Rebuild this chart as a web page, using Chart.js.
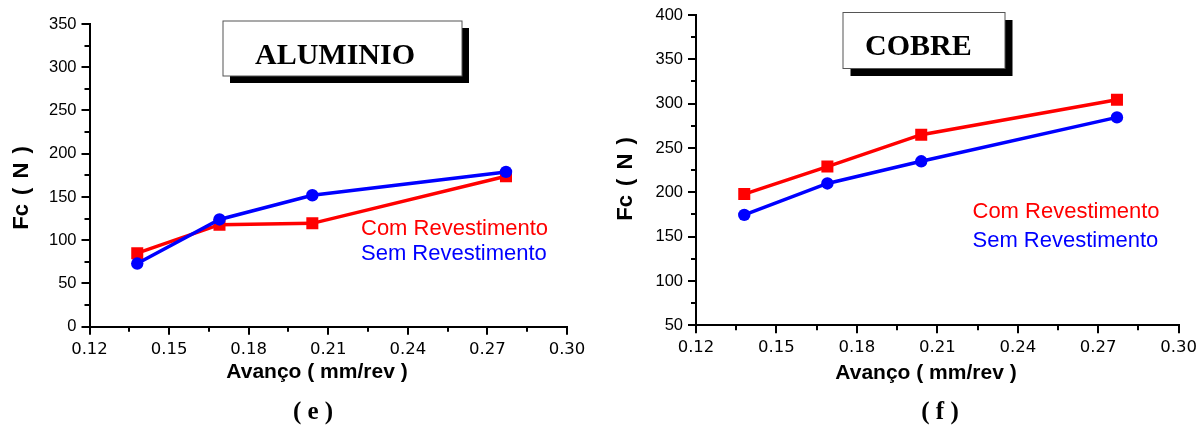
<!DOCTYPE html>
<html>
<head>
<meta charset="utf-8">
<script src="https://cdn.jsdelivr.net/npm/chart.js@4.4.1/dist/chart.umd.min.js"></script>
<style>
  html, body { margin: 0; padding: 0; background: #ffffff; }
  #wrap { position: relative; width: 1202px; height: 426px; overflow: hidden; background: #fff; }
  canvas { position: absolute; top: 0; }
  #c1 { left: 0; }
  #c2 { left: 600px; }
  svg { position: absolute; left: 0; top: 0; pointer-events: none; }
  .sans { font-family: "Liberation Sans", Arial, sans-serif; }
  .serif { font-family: "Liberation Serif", "Times New Roman", serif; }
</style>
</head>
<body>
<div id="wrap">
  <canvas id="c1" width="600" height="426"></canvas>
  <canvas id="c2" width="602" height="426"></canvas>
  <svg width="1202" height="426" viewBox="0 0 1202 426">
    <!-- ALUMINIO title box -->
    <rect x="230" y="28" width="239" height="55" fill="#000"/>
    <rect x="223" y="21" width="239" height="55" fill="#fff" stroke="#555" stroke-width="1"/>
    <text x="255" y="64" class="serif" font-weight="bold" font-size="30" fill="#000">ALUMINIO</text>
    <!-- COBRE title box -->
    <rect x="850.5" y="20" width="162" height="56" fill="#000"/>
    <rect x="843" y="12.5" width="162" height="56" fill="#fff" stroke="#555" stroke-width="1"/>
    <text x="865" y="55" class="serif" font-weight="bold" font-size="30" fill="#000">COBRE</text>

    <!-- legends -->
    <text x="361" y="235" class="sans" font-size="22" fill="#ff0000">Com Revestimento</text>
    <text x="361" y="260" class="sans" font-size="22" fill="#0000ff">Sem Revestimento</text>
    <text x="972.5" y="218" class="sans" font-size="22" fill="#ff0000">Com Revestimento</text>
    <text x="972.5" y="246.5" class="sans" font-size="22" fill="#0000ff">Sem Revestimento</text>

    <!-- axis titles -->
    <text transform="translate(28,188) rotate(-90)" text-anchor="middle" class="sans" font-weight="bold" font-size="22" fill="#000" style="white-space:pre" word-spacing="3">Fc ( N )</text>
    <text transform="translate(632,179) rotate(-90)" text-anchor="middle" class="sans" font-weight="bold" font-size="22" fill="#000" style="white-space:pre" word-spacing="3">Fc ( N )</text>
    <text x="317" y="378" text-anchor="middle" class="sans" font-weight="bold" font-size="21" fill="#000">Avanço ( mm/rev )</text>
    <text x="926" y="379" text-anchor="middle" class="sans" font-weight="bold" font-size="21" fill="#000">Avanço ( mm/rev )</text>

    <!-- captions -->
    <text x="313" y="419" text-anchor="middle" class="serif" font-weight="bold" font-size="25" fill="#000" style="white-space:pre">( e )</text>
    <text x="940" y="419" text-anchor="middle" class="serif" font-weight="bold" font-size="25" fill="#000" style="white-space:pre">( f )</text>
  </svg>
</div>
<script>
// ---- data ----
const feed = [0.138, 0.169, 0.204, 0.277];          // Avanço (mm/rev)
const aluComRevest = [85, 118, 119.5, 174];         // ALUMINIO, Com Revestimento
const aluSemRevest = [73, 124, 152, 179];           // ALUMINIO, Sem Revestimento
const cuComRevest = [198, 229, 265, 304.5];         // COBRE, Com Revestimento
const cuSemRevest = [174.5, 210, 235, 284.5];       // COBRE, Sem Revestimento

const xTicks = [0.12, 0.15, 0.18, 0.21, 0.24, 0.27, 0.30];
const xMinorTicks = [0.135, 0.165, 0.195, 0.225, 0.255, 0.285];
const aluYTicks = [0, 50, 100, 150, 200, 250, 300, 350];
const aluYMinor = [25, 75, 125, 175, 225, 275, 325];
const cuYTicks = [50, 100, 150, 200, 250, 300, 350, 400];
const cuYMinor = [75, 125, 175, 225, 275, 325, 375];

const seriesNames = ['Com Revestimento', 'Sem Revestimento'];
const RED = '#ff0000', BLUE = '#0000ff';

function pts(xs, ys) { return xs.map((x, i) => ({ x: x, y: ys[i] })); }

const minorTicksPlugin = {
  id: 'minorTicks',
  afterDraw(chart, args, opts) {
    const ctx = chart.ctx;
    const xs = chart.scales.x, ys = chart.scales.y;
    ctx.save();
    ctx.strokeStyle = '#000';
    ctx.lineWidth = 2;
    ctx.beginPath();
    (opts.x || []).forEach(v => {
      const px = Math.round(xs.getPixelForValue(v));
      ctx.moveTo(px, xs.top);
      ctx.lineTo(px, xs.top + 5);
    });
    (opts.y || []).forEach(v => {
      const py = Math.round(ys.getPixelForValue(v));
      ctx.moveTo(ys.right, py);
      ctx.lineTo(ys.right - 5, py);
    });
    ctx.stroke();
    ctx.restore();
  }
};

function makeChart(id, comVals, semVals, yTicks, yMinor, geom) {
  const ctx = document.getElementById(id).getContext('2d');
  return new Chart(ctx, {
    type: 'line',
    data: {
      datasets: [
        {
          label: seriesNames[0],
          data: pts(feed, comVals),
          borderColor: RED, backgroundColor: RED,
          pointBackgroundColor: RED, pointBorderColor: RED,
          borderWidth: 3.5, pointStyle: 'rect', pointRadius: 8.5, pointBorderWidth: 0,
          tension: 0, order: 1
        },
        {
          label: seriesNames[1],
          data: pts(feed, semVals),
          borderColor: BLUE, backgroundColor: BLUE,
          pointBackgroundColor: BLUE, pointBorderColor: BLUE,
          borderWidth: 3.5, pointStyle: 'circle', pointRadius: 6.2, pointBorderWidth: 0,
          tension: 0, order: 0
        }
      ]
    },
    options: {
      responsive: false,
      animation: false,
      devicePixelRatio: 1,
      layout: { padding: { left: 0, right: geom.padRight, top: geom.padTop, bottom: geom.padBottom } },
      plugins: {
        legend: { display: false },
        tooltip: { enabled: false },
        minorTicks: { x: xMinorTicks, y: yMinor }
      },
      scales: {
        x: {
          type: 'linear',
          min: xTicks[0], max: xTicks[xTicks.length - 1],
          afterBuildTicks: s => { s.ticks = xTicks.map(v => ({ value: v })); },
          afterFit: s => { s.height = 60; },
          border: { display: true, color: '#000', width: 2 },
          grid: { display: true, drawOnChartArea: false, drawTicks: true, tickLength: 8, color: '#000', lineWidth: 2 },
          ticks: {
            color: '#000', padding: 5, maxRotation: 0, autoSkip: false,
            font: { family: '"DejaVu Sans", "Liberation Sans", sans-serif', size: 16.5 },
            callback: v => Number(v).toFixed(2)
          }
        },
        y: {
          type: 'linear',
          min: yTicks[0], max: yTicks[yTicks.length - 1],
          afterBuildTicks: s => { s.ticks = yTicks.map(v => ({ value: v })); },
          afterFit: s => { s.width = geom.axisLeft; },
          border: { display: true, color: '#000', width: 2 },
          grid: { display: true, drawOnChartArea: false, drawTicks: true, tickLength: 8, color: '#000', lineWidth: 2 },
          ticks: {
            color: '#000', padding: 5, autoSkip: false,
            font: { family: '"Liberation Sans", Arial, sans-serif', size: 16.5 },
            callback: v => String(v)
          }
        }
      }
    },
    plugins: [minorTicksPlugin]
  });
}

makeChart('c1', aluComRevest, aluSemRevest, aluYTicks, aluYMinor,
  { axisLeft: 89.5, padRight: 33, padTop: 24, padBottom: 39.3 });
makeChart('c2', cuComRevest, cuSemRevest, cuYTicks, cuYMinor,
  { axisLeft: 96, padRight: 20, padTop: 15, padBottom: 40.7 });
</script>
</body>
</html>
